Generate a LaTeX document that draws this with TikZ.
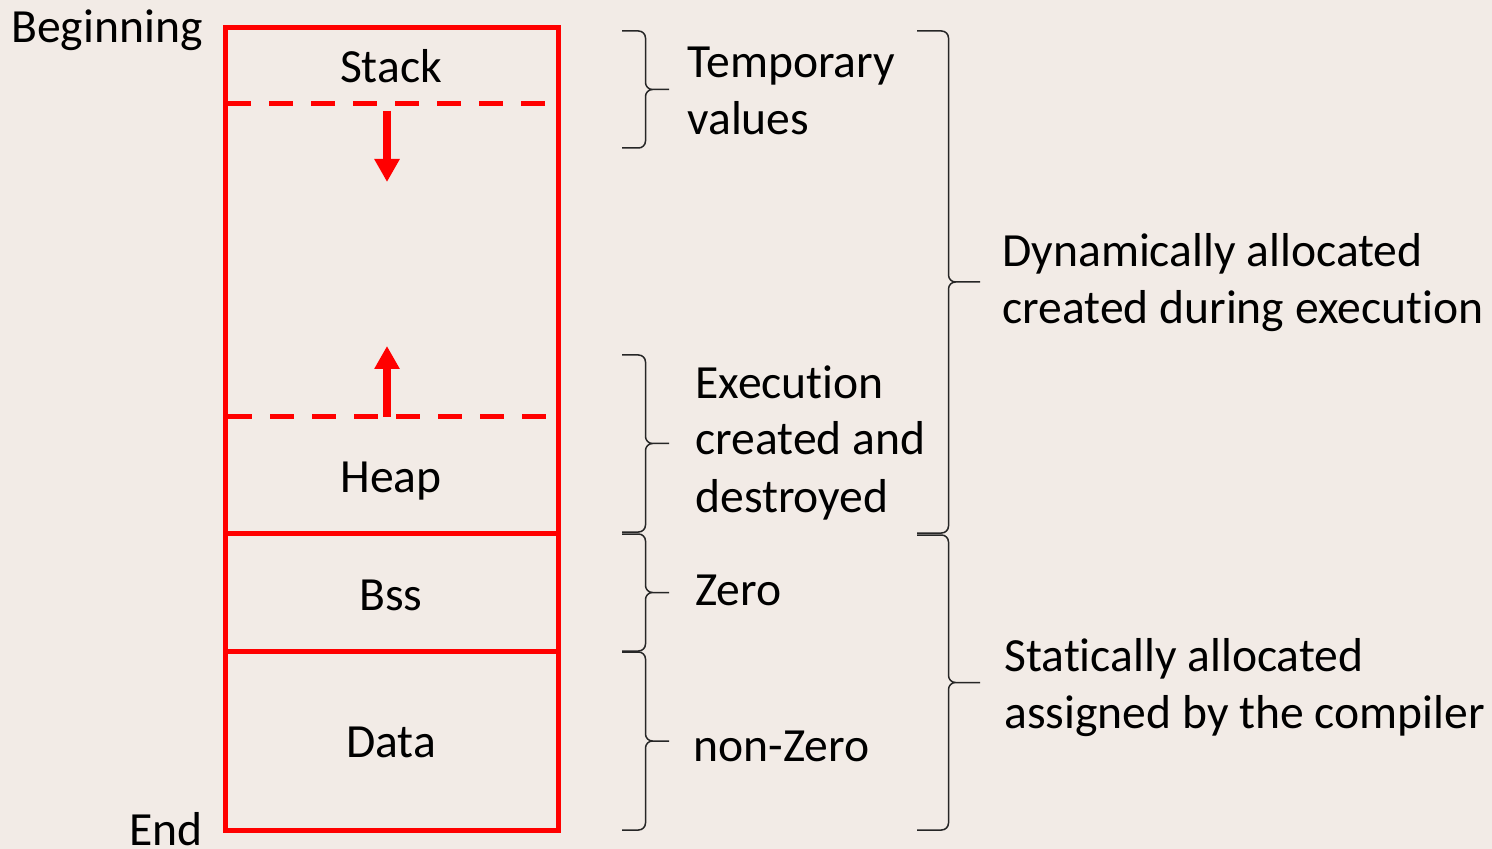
\documentclass[tikz,border=0pt]{standalone}
\usepackage{fontspec}
\setmainfont{Carlito}[Ligatures=CommonOff]
\usetikzlibrary{arrows.meta,calc}
\usepackage{xcolor}
\definecolor{memred}{HTML}{FF0000}
\definecolor{slidebg}{HTML}{F2EBE6}

\begin{document}
\begin{tikzpicture}[x=0.5pt,y=-0.5pt,
  seg/.style={font=\fontsize{23.8}{28.5}\selectfont, inner sep=0pt, anchor=base},
  note/.style={font=\fontsize{23.8}{28.5}\selectfont, inner sep=0pt, align=left, anchor=base west},
  wall/.style={draw=memred, line width=2.5pt},
  splitline/.style={memred, line width=2.8pt, dash pattern=on 12pt off 9pt},
  growarr/.style={-{Triangle[width=12pt,length=11.5pt]}, memred, line width=4pt},
  brc/.style={line width=0.75pt, black!85, rounded corners=3.5pt,
    to path={-- ++(#1/2,0) |- ($(\tikztostart)!0.5!(\tikztotarget)+(#1,0)$)
      (\tikztotarget) -- ++(#1/2,0) |- ($(\tikztostart)!0.5!(\tikztotarget)+(#1,0)$)}},
  brc/.default=47
]
  \useasboundingbox (0,0) rectangle (1492,849);
  \fill[slidebg] (0,0) rectangle (1492,849);

  \coordinate (memtop) at (225.5,27.5);
  \coordinate (membot) at (558,830);
  \draw[wall] (memtop) rectangle (membot);
  \draw[wall] (225.5,533) -- (558,533);
  \draw[wall] (225.5,651.5) -- (558,651.5);
  \draw[splitline] (227,103.5) -- (545,103.5);
  \draw[splitline] (228,416.5) -- (548,416.5);

  \coordinate (stkfrom) at (387,111);
  \coordinate (stkto) at (387,182);
  \coordinate (hpfrom) at (387,417);
  \coordinate (hpto) at (387,346);
  \draw[growarr] (stkfrom) -- (stkto);
  \draw[growarr] (hpfrom) -- (hpto);

  \node[seg] (stack) at (391,83) {Stack};
  \node[seg] (heap) at (391,493) {Heap};
  \node[seg] (bss) at (391,610) {Bss};
  \node[seg] (data) at (391,757) {Data};
  \node[seg, anchor=base east] (begin) at (203,43) {Beginning};
  \node[seg, anchor=base east] (end) at (203,845) {End};

  \coordinate (tmpA) at (622,31);
  \coordinate (tmpB) at (622,148);
  \coordinate (exeA) at (622,355);
  \coordinate (exeB) at (622,532);
  \coordinate (zroA) at (622,534);
  \coordinate (zroB) at (622,651);
  \coordinate (nzrA) at (622,652);
  \coordinate (nzrB) at (622,830);
  \coordinate (dynA) at (917,31);
  \coordinate (dynB) at (917,533);
  \coordinate (staA) at (917,535);
  \coordinate (staB) at (917,830);
  \draw[brc] (tmpA) to (tmpB);
  \draw[brc] (exeA) to (exeB);
  \draw[brc] (zroA) to (zroB);
  \draw[brc] (nzrA) to (nzrB);
  \draw[brc=63] (dynA) to (dynB);
  \draw[brc=63] (staA) to (staB);

  \node[note] (tmp) at (687,135) {Temporary\\values};
  \node[note] (exe) at (695,512) {Execution\\created and\\destroyed};
  \node[note] (zro) at (695,605) {Zero};
  \node[note] (nzr) at (693,761) {non-Zero};
  \node[note] (dyn) at (1002,324) {Dynamically allocated\\created during execution};
  \node[note] (sta) at (1004,728) {Statically allocated\\assigned by the compiler};
\end{tikzpicture}
\end{document}
